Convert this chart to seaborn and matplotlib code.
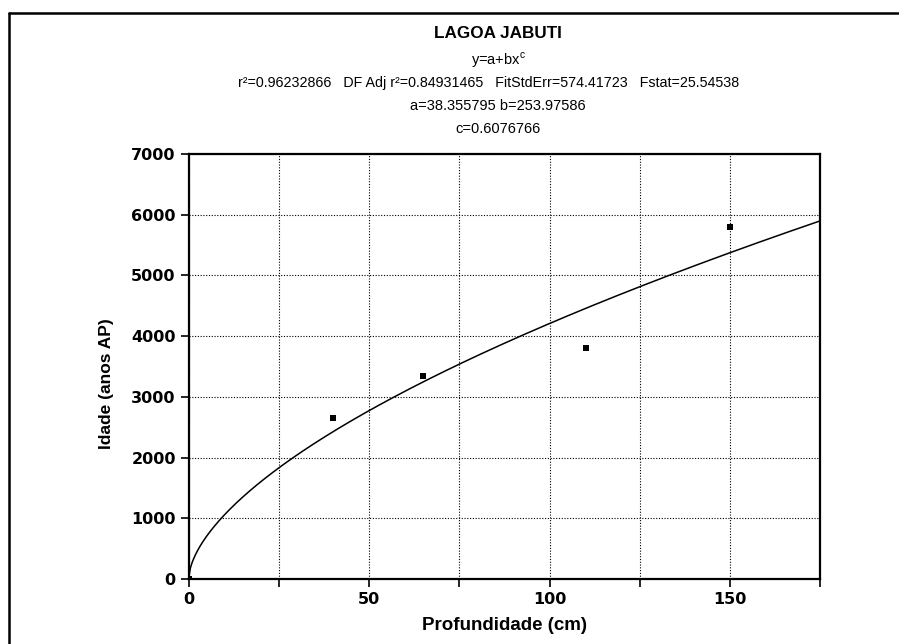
import numpy as np
import pandas as pd
import matplotlib
matplotlib.use("Agg")
import matplotlib.pyplot as plt
from matplotlib.lines import Line2D
import seaborn as sns

# measured samples (depth in cm, age in years BP)
profundidade = [0, 40, 65, 110, 150]
idade = [0, 2650, 3350, 3800, 5800]

# fit y = a + b*x^c, coefficients printed on the chart
a_fit = 38.355795
b_fit = 253.97586
c_fit = 0.6076766
stats_txt = "r\u00b2=0.96232866   DF Adj r\u00b2=0.84931465   FitStdErr=574.41723   Fstat=25.54538"

titulo = "LAGOA JABUTI"
xlab = "Profundidade (cm)"
ylab = "Idade (anos AP)"

sns.set_style("ticks")
plt.rcParams["font.family"] = ["Liberation Sans", "DejaVu Sans"]
plt.rcParams["mathtext.fontset"] = "custom"
plt.rcParams["mathtext.rm"] = "Liberation Sans"
for k in ["text.color", "axes.labelcolor", "xtick.color", "ytick.color"]:
    plt.rcParams[k] = "black"

df = pd.DataFrame({"x": profundidade, "y": idade})
xs = np.linspace(0, 175, 500)
curva = pd.DataFrame({"x": xs, "y": a_fit + b_fit * xs ** c_fit})

fig = plt.figure(figsize=(8.99, 6.44), dpi=100)
ax = fig.add_axes([189 / 899, 1 - 579 / 644, 631 / 899, 425 / 644])

sns.lineplot(data=curva, x="x", y="y", color="black", lw=1.1, ax=ax)
sns.scatterplot(data=df, x="x", y="y", marker="s", s=16, color="black",
                edgecolor="black", linewidth=0, ax=ax, zorder=5)

ax.set_xlim(0, 175)
ax.set_ylim(0, 7000)
ax.set_xticks(np.arange(0, 176, 25))
ax.set_xticklabels([str(v) if v % 50 == 0 else "" for v in range(0, 176, 25)])
ax.set_yticks(np.arange(0, 7001, 1000))
ax.grid(True, color="black", linestyle=(0, (1, 1.5)), lw=0.8)
for s in ax.spines.values():
    s.set_linewidth(1.6)
    s.set_color("black")
ax.tick_params(direction="out", length=6, width=1.2)
for lab in ax.get_xticklabels() + ax.get_yticklabels():
    lab.set_fontweight("bold")
    lab.set_fontfamily("DejaVu Sans")
    lab.set_fontsize(11.5)
ax.set_xlabel(xlab, fontsize=13.5, fontweight="bold", labelpad=7)
ax.set_ylabel(ylab, fontsize=12.5, fontweight="bold")
ax.yaxis.set_label_coords(-0.119, 0.46)

cx = 498 / 899
fig.text(cx, 1 - 34 / 644, titulo, ha="center", va="center", fontsize=12.3, fontweight="bold")
fig.text(cx, 1 - 60 / 644, "y=a+bx$^\\mathregular{c}$", ha="center", va="center", fontsize=10.5)
fig.text(489 / 899, 1 - 83 / 644, stats_txt, ha="center", va="center", fontsize=10.3)
fig.text(cx, 1 - 106 / 644, f"a={a_fit} b={b_fit}", ha="center", va="center", fontsize=10.5)
fig.text(cx, 1 - 129 / 644, f"c={c_fit}", ha="center", va="center", fontsize=10.5)

# outer frame (left and top edges only)
fig.add_artist(Line2D([9 / 899, 9 / 899], [0, 1 - 12.5 / 644], color="black", lw=1.8))
fig.add_artist(Line2D([9 / 899, 1], [1 - 12.5 / 644, 1 - 12.5 / 644], color="black", lw=1.8))

fig.savefig("out.png", dpi=100)
